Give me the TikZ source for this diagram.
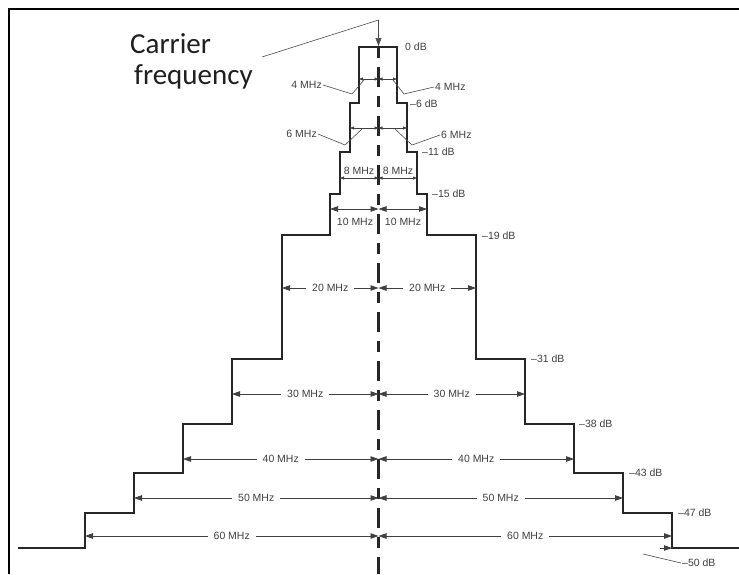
\documentclass[tikz,border=0pt]{standalone}
\usepackage{fontspec}
\setmainfont{Liberation Sans}
\newfontfamily\calib{Carlito}
\usetikzlibrary{arrows.meta}
\begin{document}
\begin{tikzpicture}[x=1pt,y=-1pt,
  prof/.style={line width=2pt, black!85, line join=miter},
  dimline/.style={line width=0.8pt, black!75, {Triangle[length=8pt,width=5.5pt]}-{Triangle[length=8pt,width=5.5pt]}},
  smalldim/.style={line width=0.7pt, black!75, {Triangle[length=4pt,width=3pt]}-{Triangle[length=4pt,width=3pt]}},
  lbl/.style={font=\fontsize{10.5}{12}\selectfont, text=black!75, inner sep=1pt},
  dimlbl/.style={lbl, fill=white, inner xsep=6pt, inner ysep=1pt},
  leader/.style={line width=0.6pt, black!70},
  bigtxt/.style={font=\calib\fontsize{29}{31}\selectfont, text=black!88, inner sep=0pt},
]
\useasboundingbox (0,0) rectangle (739,574);
\fill[white] (0,0) rectangle (739,574);
% frame
\coordinate (fTR) at (739,9);
\coordinate (fTL) at (9,9);
\coordinate (fBL) at (9,574);
\draw[line width=2.5pt, black, line join=miter] (fTR) -- (fTL) -- (fBL);
% centre line
\coordinate (ctop) at (378.5,47);
\coordinate (cbot) at (378.5,574);
\draw[line width=3.5pt, black!85, dash pattern=on 11pt off 9pt on 20pt off 9pt] (ctop) -- (cbot);
% spectrum mask
\draw[prof] (18,548) -- (85,548) -- (85,513) -- (134,513) -- (134,473) -- (183,473)
  -- (183,424) -- (232,424) -- (232,359) -- (282,359) -- (282,235) -- (330,235)
  -- (330,194) -- (340,194) -- (340,152) -- (350,152) -- (350,103) -- (359,103)
  -- (359,47) -- (397,47) -- (397,103) -- (407,103) -- (407,152) -- (417,152)
  -- (417,194) -- (427,194) -- (427,235) -- (476,235) -- (476,359) -- (525,359)
  -- (525,424) -- (574,424) -- (574,473) -- (623,473) -- (623,513) -- (672,513)
  -- (672,548) -- (739,548);
% dB labels
\node[lbl, anchor=west] (db0) at (404,47) {0 dB};
\node[lbl, anchor=west] (db6) at (409,104) {–6 dB};
\node[lbl, anchor=west] (db11) at (421,152) {–11 dB};
\node[lbl, anchor=west] (db15) at (431,194) {–15 dB};
\node[lbl, anchor=west] (db19) at (481,236) {–19 dB};
\node[lbl, anchor=west] (db31) at (530,359) {–31 dB};
\node[lbl, anchor=west] (db38) at (578,424) {–38 dB};
\node[lbl, anchor=west] (db43) at (628,473) {–43 dB};
\node[lbl, anchor=west] (db47) at (677,513) {–47 dB};
\node[lbl, anchor=west] (db50) at (681,563) {–50 dB};
\coordinate (l50) at (643,554);
\draw[leader] (db50.west) -- (l50);
\coordinate (a50s) at (660,548);
\coordinate (a50t) at (672,548);
\draw[dimline, {-Triangle[length=8pt,width=5.5pt]}] (a50s) -- (a50t);
% carrier frequency
\node[bigtxt, anchor=base west] (car) at (130,53) {Carrier};
\node[bigtxt, anchor=base west] (freq) at (134,84) {frequency};
\coordinate (cl1) at (262,57);
\coordinate (cl2) at (378.5,20);
\coordinate (ctip) at (378.5,46);
\draw[leader, -{Triangle[length=8pt,width=6pt]}] (cl1) -- (cl2) -- (ctip);
% 4 MHz
\coordinate (d4L) at (359,79); \coordinate (d4C) at (378.5,79); \coordinate (d4R) at (397,79);
\draw[smalldim] (d4L) -- (d4C);
\draw[smalldim] (d4C) -- (d4R);
\node[lbl, anchor=east] (m4l) at (323,85) {4 MHz};
\node[lbl, anchor=west] (m4r) at (434,87) {4 MHz};
\coordinate (k4l) at (352,94); \coordinate (p4l) at (364,80);
\coordinate (k4r) at (404,94); \coordinate (p4r) at (393,80);
\draw[leader] (m4l.east) -- (k4l) -- (p4l);
\draw[leader] (m4r.west) -- (k4r) -- (p4r);
% 6 MHz
\coordinate (d6L) at (350,128); \coordinate (d6C) at (378.5,128); \coordinate (d6R) at (407,128);
\draw[smalldim] (d6L) -- (d6C);
\draw[smalldim] (d6C) -- (d6R);
\node[lbl, anchor=east] (m6l) at (318,134) {6 MHz};
\node[lbl, anchor=west] (m6r) at (440,135) {6 MHz};
\coordinate (k6l) at (345,145); \coordinate (p6l) at (362,129);
\coordinate (k6r) at (412,145); \coordinate (p6r) at (395,129);
\draw[leader] (m6l.east) -- (k6l) -- (p6l);
\draw[leader] (m6r.west) -- (k6r) -- (p6r);
% 8 MHz
\coordinate (d8L) at (340,178); \coordinate (d8C) at (378.5,178); \coordinate (d8R) at (417,178);
\draw[smalldim] (d8L) -- (d8C);
\draw[smalldim] (d8C) -- (d8R);
\node[lbl] (m8l) at (359,171) {8 MHz};
\node[lbl] (m8r) at (398,171) {8 MHz};
% 10 MHz
\coordinate (d10L) at (330,209); \coordinate (d10C) at (378.5,209); \coordinate (d10R) at (427,209);
\draw[dimline] (d10L) -- (d10C);
\draw[dimline] (d10C) -- (d10R);
\node[lbl] (m10l) at (355,222) {10 MHz};
\node[lbl] (m10r) at (403,222) {10 MHz};
% large dimensions
\foreach \n/\y/\l/\r in {20/288/282/476, 30/394/232/525, 40/459/183/574, 50/498/134/623, 60/536/85/672} {
  \coordinate (L\n) at (\l,\y);
  \coordinate (C\n) at (378.5,\y);
  \coordinate (R\n) at (\r,\y);
  \draw[dimline] (L\n) -- (C\n) node[midway, dimlbl] {\n\ MHz};
  \draw[dimline] (C\n) -- (R\n) node[midway, dimlbl] {\n\ MHz};
}
\end{tikzpicture}
\end{document}
